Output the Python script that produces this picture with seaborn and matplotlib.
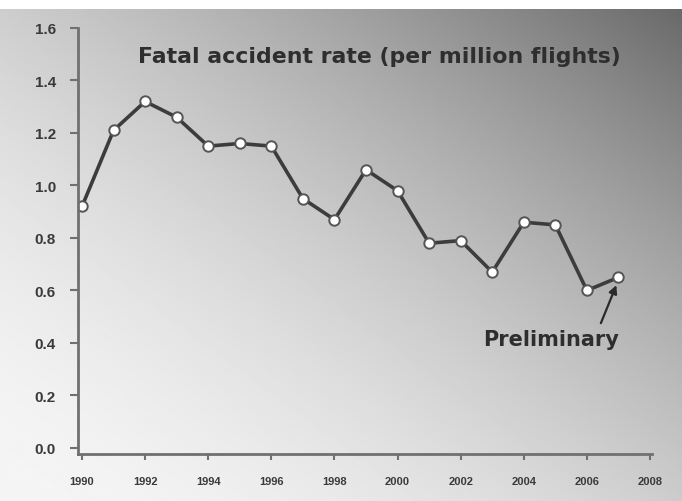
import numpy as np
import pandas as pd
import matplotlib
matplotlib.use("Agg")
import matplotlib.pyplot as plt
import seaborn as sns

years = [1990, 1991, 1992, 1993, 1994, 1995, 1996, 1997, 1998, 1999,
         2000, 2001, 2002, 2003, 2004, 2005, 2006, 2007]
fatal_rate = [0.92, 1.21, 1.32, 1.26, 1.15, 1.16, 1.15, 0.95, 0.87, 1.06,
              0.98, 0.78, 0.79, 0.67, 0.86, 0.85, 0.60, 0.65]
x_ticks = [1990, 1992, 1994, 1996, 1998, 2000, 2002, 2004, 2006, 2008]
y_ticks = [0.0, 0.2, 0.4, 0.6, 0.8, 1.0, 1.2, 1.4, 1.6]

df = pd.DataFrame({"year": years, "rate": fatal_rate})

sns.set_theme(style="white")
plt.rcParams["font.family"] = ["Liberation Sans", "DejaVu Sans"]

W, H = 682, 502
top_band = 10
fig = plt.figure(figsize=(W / 100, H / 100), dpi=100)
fig.patch.set_facecolor("white")

# grey backdrop: light in the lower left, darkening towards the upper right
bg = fig.add_axes([0, 0, 1, 1 - top_band / H])
bg.set_axis_off()
u = np.linspace(0, 1, 400)
w = np.linspace(1 - top_band / H, 0, 300)
gu, gw = np.meshgrid(u, w)
s = gu + gw
shade = np.clip(0.96 - 0.16 * s ** 1.8, 0, 1)
bg.imshow(shade, cmap="gray", vmin=0, vmax=1, aspect="auto",
          extent=[0, 1, 0, 1], interpolation="bilinear")

ax = fig.add_axes([78 / W, 1 - 455 / H, (652 - 78) / W, (455 - 29) / H])
ax.patch.set_alpha(0)

sns.lineplot(data=df, x="year", y="rate", ax=ax, color="#3c3c3c",
             linewidth=2.6, marker="o", markersize=7.5,
             markerfacecolor="white", markeredgecolor="#555555",
             markeredgewidth=1.4)

ax.set_xlim(1989.873, 2008.063)
ax.set_ylim(-0.023, 1.6)
ax.set_xticks(x_ticks)
ax.set_yticks(y_ticks)
ax.set_xticklabels([str(t) for t in x_ticks], fontsize=8, fontweight="bold",
                   color="#3a3a3a")
ax.set_yticklabels([f"{t:.1f}" for t in y_ticks], fontsize=11,
                   fontweight="bold", color="#3a3a3a")
ax.set_xlabel("")
ax.set_ylabel("")

for side in ("top", "right"):
    ax.spines[side].set_visible(False)
for side in ("left", "bottom"):
    ax.spines[side].set_color("#707070")
    ax.spines[side].set_linewidth(2)
ax.tick_params(axis="y", direction="out", length=6, width=1.5,
               color="#707070", pad=10, left=True)
ax.tick_params(axis="x", direction="out", length=4, width=1.5,
               color="#707070", pad=12, bottom=True)

fig.text(379 / W, 1 - 57 / H, "Fatal accident rate (per million flights)",
         ha="center", va="center", fontsize=15.8, fontweight="bold",
         color="#2e2e2e", family="DejaVu Sans")

ax.annotate("Preliminary", xy=(2007, fatal_rate[-1] - 0.01),
            xytext=(2004.86, 0.415), textcoords="data",
            ha="center", va="center", fontsize=15, fontweight="bold",
            color="#2e2e2e", family="DejaVu Sans",
            arrowprops=dict(arrowstyle="-|>", color="#2a2a2a", lw=1.6,
                            mutation_scale=12, shrinkA=2, shrinkB=4,
                            relpos=(0.85, 1.0)))

fig.savefig("out.png", dpi=100)
